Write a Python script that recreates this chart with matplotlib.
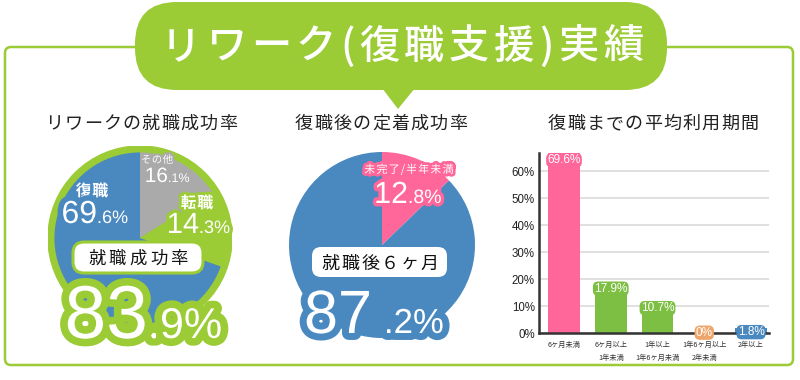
import matplotlib
matplotlib.use("Agg")
import matplotlib.pyplot as plt
import matplotlib.patheffects as pe
from matplotlib.patches import FancyBboxPatch, Polygon, Circle
import numpy as np

# ---------------- data ----------------
main_title = "リワーク(復職支援)実績"
panel_titles = ["リワークの就職成功率", "復職後の定着成功率", "復職までの平均利用期間"]

job_labels = ["その他", "転職", "復職"]
job_values = [16.1, 14.3, 69.6]
success_label = "就職成功率"
success_rate = 83.9

retention_labels = ["未完了/半年未満", "定着"]
retention_values = [12.8, 87.2]
retention_label = "就職後６ヶ月"

period_labels = ["6ヶ月未満", "6ヶ月以上\n1年未満", "1年以上\n1年6ヶ月未満",
                 "1年6ヶ月以上\n2年未満", "2年以上"]
period_values = [69.6, 17.9, 10.7, 0, 1.8]
y_ticks = [0, 10, 20, 30, 40, 50, 60]

# ---------------- style ----------------
GREEN = "#9bcb35"
BLUE = "#4a88c0"
GRAY = "#aaaaaa"
PINK = "#ff6699"
BARGREEN = "#7cbf42"
ORANGE = "#eea66c"
JP = ["Noto Sans CJK JP", "DejaVu Sans"]
NUM = ["Liberation Sans", "DejaVu Sans"]

plt.rcParams["font.family"] = JP

fig = plt.figure(figsize=(8, 3.8), dpi=100)
W, H = 800, 380


def px_axes(x0, y0, w, h, **kw):
    """axes from pixel box (top-left origin)"""
    return fig.add_axes([x0 / W, (H - y0 - h) / H, w / W, h / H], **kw)


# ---------------- pies ----------------
def pie_axes(cx, cy, r):
    return px_axes(cx - r, cy - r, 2 * r, 2 * r)

axL = pie_axes(140, 238, 92)
axL.add_patch(Circle((0, 0), 1.0, color=GREEN, zorder=0))
axL.pie(job_values, colors=[GRAY, GREEN, BLUE], startangle=90, counterclock=False,
        radius=0.93, wedgeprops=dict(linewidth=0))
axL.set_xlim(-1, 1); axL.set_ylim(-1, 1); axL.set_aspect("auto"); axL.axis("off")

axM = pie_axes(382, 245, 93)
axM.pie(retention_values, colors=[PINK, BLUE], startangle=90, counterclock=False,
        radius=1.0, wedgeprops=dict(linewidth=0))
axM.set_xlim(-1, 1); axM.set_ylim(-1, 1); axM.set_aspect("auto"); axM.axis("off")

# ---------------- bar chart ----------------
axB = px_axes(539, 153, 230, 180)
xpos = np.arange(len(period_values))
bar_colors = [PINK, BARGREEN, BARGREEN, ORANGE, BLUE]
axB.bar(xpos, period_values, width=0.68, color=bar_colors, zorder=3)
ytop = 66.7
axB.set_ylim(0, ytop)
axB.set_xlim(-0.535, 4.385)
axB.set_yticks(y_ticks)
axB.set_yticklabels([f"{v}%" for v in y_ticks], fontsize=8.3, color="#222222",
                    family=NUM)
axB.set_xticks(xpos)
axB.set_xticklabels(period_labels, fontsize=5.2, color="#333333", linespacing=1.75,
                    va="top")
axB.tick_params(length=0, pad=3)
axB.tick_params(axis="x", pad=6)
axB.grid(axis="y", color="#dddddd", linewidth=1.3, zorder=0)
for s in ["top", "right"]:
    axB.spines[s].set_visible(False)
for s in ["left", "bottom"]:
    axB.spines[s].set_color("#333333")
    axB.spines[s].set_linewidth(1.8)
    axB.spines[s].set_zorder(4)
for xi, v, c in zip(xpos, period_values, bar_colors):
    ly = min(max(v, 1.6), ytop - 1.2)
    axB.annotate(f"{v:g}%", (xi, ly), xytext=(0, -4), textcoords="offset pixels",
                 ha="center", va="center", fontsize=8.5, color="white", family=NUM,
                 annotation_clip=False, zorder=5,
                 bbox=dict(boxstyle="round,pad=0.1,rounding_size=0.45", fc=c, ec="none"))

# ---------------- overlay (pixel coordinates) ----------------
ov = fig.add_axes([0, 0, 1, 1], zorder=10)
ov.set_xlim(0, W); ov.set_ylim(H, 0); ov.axis("off"); ov.patch.set_alpha(0)

# frame
ov.add_patch(FancyBboxPatch((5, 47), 788, 318, boxstyle="round,pad=0,rounding_size=6",
                            fc="none", ec=GREEN, lw=1.8))
# bubble
ov.add_patch(FancyBboxPatch((135, 2), 532, 88, boxstyle="round,pad=0,rounding_size=42",
                            fc=GREEN, ec="none"))
ov.add_patch(Polygon([(382, 88), (415, 88), (398, 109)], closed=True, fc=GREEN, ec="none"))

renderer = fig.canvas.get_renderer()


def spaced(s, xc, yb, size, track, **kw):
    ws = []
    for ch in s:
        t = ov.text(0, 0, ch, fontsize=size, **kw)
        ws.append(t.get_window_extent(renderer=renderer).width)
        t.remove()
    total = sum(ws) + track * (len(s) - 1)
    x = xc - total / 2
    for ch, w in zip(s, ws):
        ov.text(x, yb, ch, fontsize=size, ha="left", va="baseline", **kw)
        x += w + track


def stroke(c, lw):
    return [pe.withStroke(linewidth=lw, foreground=c, joinstyle="round", capstyle="round")]


spaced(main_title, 402, 59, 29, 4.6, color="white", family=JP, fontweight="medium")

spaced(panel_titles[0], 141, 129, 13, 1.3, color="#222222", family=JP)
spaced(panel_titles[1], 381, 129, 13, 1.25, color="#222222", family=JP)
spaced(panel_titles[2], 653, 129, 13, 1.2, color="#222222", family=JP)


def number(big, small, xsplit, yb, bsize, ssize, c, lw, zo=12, gap=0):
    ov.text(xsplit, yb, big, fontsize=bsize, ha="right", va="baseline", color="white",
            family=NUM, path_effects=stroke(c, lw), zorder=zo)
    ov.text(xsplit + gap, yb, small, fontsize=ssize, ha="left", va="baseline",
            color="white", family=NUM, path_effects=stroke(c, lw), zorder=zo)


def split_pct(v):
    s = f"{v:.1f}"
    a, b = s.split(".")
    return a, "." + b + "%"


# left pie labels
a, b = split_pct(job_values[0])
spaced(job_labels[0], 157, 163, 7.5, 0.5, color="white", family=JP,
       path_effects=stroke(GRAY, 3))
number(a, b, 168, 182, 15, 9, GRAY, 4)
a, b = split_pct(job_values[1])
spaced(job_labels[1], 197, 208, 11.5, 0.5, color="white", family=JP, fontweight="bold",
       path_effects=stroke(GREEN, 4))
number(a, b, 199, 233, 21, 13, GREEN, 5)
a, b = split_pct(job_values[2])
spaced(job_labels[2], 92, 196, 11.5, 0.5, color="white", family=JP, fontweight="bold",
       path_effects=stroke(BLUE, 4))
number(a, b, 97, 223, 23, 13, BLUE, 8)

ov.add_patch(FancyBboxPatch((73, 242), 130, 31, boxstyle="round,pad=0,rounding_size=11",
                            fc="white", ec=GREEN, lw=2.2, zorder=11))
spaced(success_label, 138, 264, 12.5, 3.2, color="#111111", family=JP, zorder=12)
a, b = split_pct(success_rate)
number(a, b, 148, 338, 54, 31, GREEN, 11)

# middle pie labels
spaced(retention_labels[0], 409, 173, 8, 1.0, color="white", family=JP,
       path_effects=stroke(PINK, 4))
a, b = split_pct(retention_values[0])
number(a, b, 408, 203, 22, 14, PINK, 5)
ov.add_patch(FancyBboxPatch((312, 247), 135, 30, boxstyle="round,pad=0,rounding_size=9",
                            fc="white", ec="none", zorder=11))
spaced(retention_label, 380, 268.5, 13, 1.8, color="#111111", family=JP, zorder=12)
a, b = split_pct(retention_values[1])
number(a, b, 372, 333, 44, 25, BLUE, 10, gap=12)

fig.savefig("out.png", dpi=100)
